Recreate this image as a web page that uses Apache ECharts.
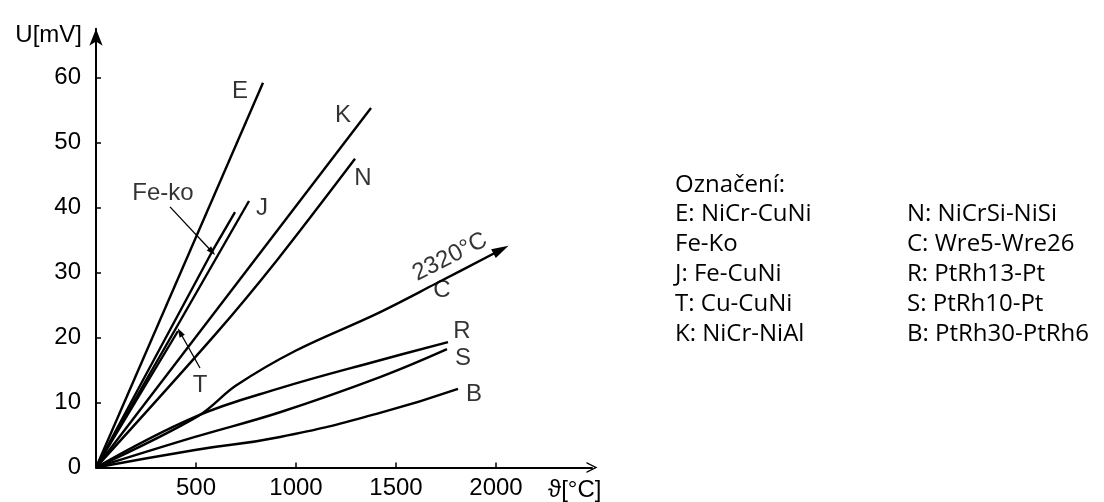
<!DOCTYPE html>
<html><head><meta charset="utf-8">
<script src="https://cdn.jsdelivr.net/npm/echarts@6/dist/echarts.min.js"></script>
<style>html,body{margin:0;padding:0;background:#fff}#c{width:1104px;height:502px}</style>
</head><body><div id="c"></div>
<script>
// ---- tick labels ----
const xTicks = [500, 1000, 1500, 2000];
const yTicks = [0, 10, 20, 30, 40, 50, 60];
// ---- curves: [temperature °C, voltage mV] ----
const seriesE = [[0,0],[835,59.2]];
const seriesFeKo = [[0,0],[580,33.2],[695,39.3]];
const seriesJ = [[0,0],[765,41.0]];
const seriesT = [[0,0],[410,21.0]];
const seriesK = [[0,0],[1375,55.3]];
const seriesN = [[0,0],[600,20.6],[905,31.9],[1295,47.5]];
const seriesC = [[0,0],[510,7.9],[700,12.6],[1000,18.0],[1400,23.6],[1700,28.3],[2025,33.5]];
const seriesR = [[0,0],[495,7.8],[920,12.2],[1420,16.5],[1760,19.3]];
const seriesS = [[0,0],[495,4.7],[920,8.5],[1420,13.9],[1755,18.2]];
const seriesB = [[0,0],[495,2.7],[920,4.7],[1420,8.4],[1810,12.1]];
// ---- annotation pointers ----
const pointerFeKo = [[370,40.1],[580,33.2]];
const pointerT = [[520,15.3],[420,20.8]];
// ---- curve labels [x, y, text] ----
const curveLabels = [[720,57.8,'E'],[1235,54.2,'K'],[1335,44.5,'N'],[830,39.9,'J'],[335,42.1,'Fe-ko'],[520,12.7,'T'],[1730,27.3,'C'],[1830,21.0,'R'],[1835,16.8,'S'],[1890,11.2,'B']];
const rotatedLabels = [[1770,32.4,'2320°C']];
// ---- legend text ----
const legendTitle = 'Označení:';
const legendCol1 = ['E: NiCr-CuNi','Fe-Ko','J: Fe-CuNi','T: Cu-CuNi','K: NiCr-NiAl'];
const legendCol2 = ['N: NiCrSi-NiSi','C: Wre5-Wre26','R: PtRh13-Pt','S: PtRh10-Pt','B: PtRh30-PtRh6'];

const INK = '#000';
const FONT = '"Liberation Sans", Arial, sans-serif';
const FS = 24;
const LFS = 24;

function line(name, data, width) {
  return {type:'line', name, data, symbol:'none', showSymbol:true, silent:true, animation:false,
    lineStyle:{color:INK, width:width||2.4}, itemStyle:{color:INK}, z:3};
}
function withArrow(data, size, rot) {
  return data.map((d,i)=> i===data.length-1 ? {value:d, symbol:'triangle', symbolSize:size, symbolRotate:rot} : d);
}

const chart = echarts.init(document.getElementById('c'), null, {renderer:'canvas'});
const lstyle = t => ({text:t, fontSize:LFS, fontFamily:'"Open Sans"', fill:'#000', verticalAlign:'middle'});
const legendGraphics = [{type:'text', x:675, y:185, style:lstyle(legendTitle)}];
legendCol1.forEach((t,i)=>legendGraphics.push({type:'text', x:675, y:214+30*i, style:lstyle(t)}));
legendCol2.forEach((t,i)=>legendGraphics.push({type:'text', x:907, y:214+30*i, style:lstyle(t)}));

chart.setOption({
  animation:false,
  backgroundColor:'#fff',
  grid:{left:96, right:512, top:28.75, bottom:34.5, containLabel:false, outerBoundsMode:'none'},
  xAxis:{type:'value', min:0, max:2480, interval:500,
    axisLine:{show:true, onZero:false, symbol:['none','path://M0,10 L5,0 L10,10 L8.6,10 L5,2.6 L1.4,10 Z'], symbolSize:[12,11], lineStyle:{color:INK, width:2}},
    axisTick:{show:true, inside:true, length:5, customValues:xTicks, lineStyle:{color:INK, width:1.5}},
    axisLabel:{customValues:xTicks, formatter:v=>String(v), fontSize:FS, color:INK, margin:9, fontFamily:FONT},
    splitLine:{show:false},
    name:'ϑ[°C]', nameLocation:'end', nameGap:-44, nameMoveOverlap:false,
    nameTextStyle:{fontSize:FS, color:INK, fontFamily:FONT, align:'left', verticalAlign:'top', padding:[11,0,0,0]}},
  yAxis:{type:'value', min:0, max:67.5, interval:10,
    axisLine:{show:true, onZero:false, symbol:['none','arrow'], symbolSize:[10,17], lineStyle:{color:INK, width:2}},
    axisTick:{show:true, inside:true, length:5, customValues:yTicks, lineStyle:{color:INK, width:1.5}},
    axisLabel:{customValues:yTicks, formatter:v=>String(v), fontSize:FS, color:INK, margin:15, fontFamily:FONT},
    splitLine:{show:false},
    name:'U[mV]', nameLocation:'end', nameGap:-19, nameMoveOverlap:false,
    nameTextStyle:{fontSize:FS, color:INK, fontFamily:FONT, align:'right', verticalAlign:'bottom', padding:[0,14,0,0]}},
  series:[
    line('E', seriesE),
    line('Fe-ko', seriesFeKo),
    line('J', seriesJ),
    line('T', seriesT),
    line('K', seriesK),
    Object.assign(line('N', seriesN), {smooth:0.3}),
    Object.assign(line('C', withArrow(seriesC, [10,17], -62.5)), {smooth:0.35}),
    Object.assign(line('R', seriesR), {smooth:0.4}),
    Object.assign(line('S', seriesS), {smooth:0.4}),
    Object.assign(line('B', seriesB), {smooth:0.5}),
    line('pFeKo', withArrow(pointerFeKo, [6,9], -137), 1.3),
    line('pT', withArrow(pointerT, [6,9], 29), 1.3),
    {type:'scatter', silent:true, animation:false, symbolSize:1, itemStyle:{color:'transparent'},
     data:curveLabels.map(d=>({value:[d[0],d[1]], name:d[2]})),
     label:{show:true, position:'inside', formatter:p=>p.name, fontSize:FS, color:INK, fontFamily:FONT}},
    {type:'scatter', silent:true, animation:false, symbolSize:1, itemStyle:{color:'transparent'},
     data:rotatedLabels.map(d=>({value:[d[0],d[1]], name:d[2]})),
     label:{show:true, position:'inside', rotate:27, formatter:p=>p.name, fontSize:FS, color:INK, fontFamily:FONT}}
  ],
  graphic:legendGraphics
});
</script></body></html>
